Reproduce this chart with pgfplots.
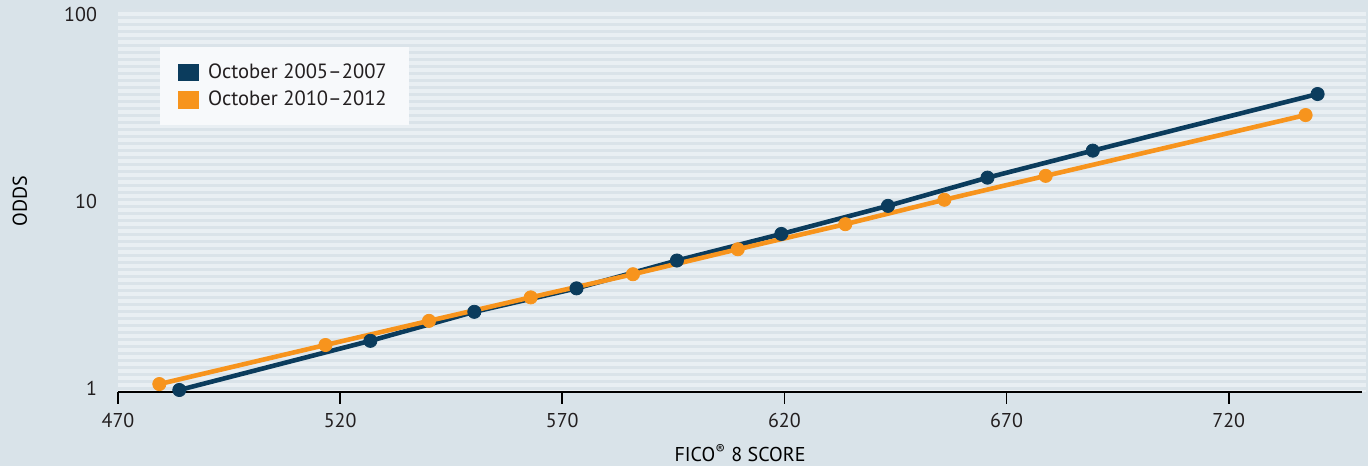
\documentclass[border=0pt]{standalone}
\usepackage{pgfplots}
\pgfplotsset{compat=1.18}
\usepackage{fontspec}
\setmainfont{PT Sans}
\definecolor{outerbg}{HTML}{D9E3E9}
\definecolor{plotlight}{HTML}{E9EFF3}
\definecolor{stripe}{HTML}{DAE3E9}
\definecolor{darkblue}{HTML}{0B3C5D}
\definecolor{orange}{HTML}{F7941D}
\definecolor{legfill}{HTML}{F7F9FB}
\definecolor{txt}{HTML}{231F20}
\pgfplotstableread{
x y
483.8 0.976
526.8 1.79
550.2 2.56
573.2 3.42
595.8 4.82
619.3 6.69
643.3 9.46
665.7 13.4
689.4 18.7
740.0 37.6
}\darkdata
\pgfplotstableread{
x y
479.3 1.05
516.7 1.70
540.0 2.29
562.9 3.06
585.9 4.07
609.5 5.54
633.7 7.55
656.0 10.2
678.8 13.7
737.3 29.0
}\orangedata
\begin{document}
\begin{tikzpicture}
\fill[outerbg] (0pt,0pt) rectangle (684pt,233pt);
\fill[plotlight] (59pt,37pt) rectangle (683pt,228pt);
\foreach \k in {0,...,54} {
  \fill[stripe] (59pt,37pt+\k*3.5pt+1.2pt) rectangle (683pt,37pt+\k*3.5pt+2.5pt);
}
\begin{axis}[
  at={(59pt,37pt)}, anchor=south west,
  scale only axis, width=622pt, height=191pt,
  xmin=470, xmax=750,
  ymode=log, ymin=0.952, ymax=106,
  xtick={470,520,570,620,670,720},
  ytick={1,10,100}, yticklabels={1,10,100},
  axis x line*=bottom, axis y line*=left,
  y axis line style={draw=none},
  x axis line style={black, line width=0.6pt},
  ytick style={draw=none}, minor y tick style={draw=none},
  xtick style={black, line width=0.8pt},
  tick align=outside, major tick length=6pt,
  /pgf/number format/assume math mode=true,
  /pgf/number format/1000 sep={},
  tick label style={font=\fontsize{10}{12}\selectfont, text=txt},
  xticklabel style={yshift=-1.2pt},
  yticklabel style={xshift=-1pt},
  label style={font=\fontsize{10}{12}\selectfont, text=txt},
  every axis x label/.style={at={(rel axis cs:0.5,0)}, yshift=-30.5pt, anchor=center},
  every axis y label/.style={at={(rel axis cs:0,0.5)}, xshift=-49pt, rotate=90, anchor=center},
  xlabel={FICO\textsuperscript{®} 8 SCORE},
  ylabel={ODDS},
  legend style={at={(rel axis cs:0.0338,0.903)}, anchor=north west, draw=none, fill=legfill,
    font=\fontsize{10.3}{12}\selectfont, text=txt, inner xsep=9pt, inner ysep=6pt,
    row sep=1pt},
  legend cell align=left,
]
\addplot[darkblue, line width=2.3pt, mark=*, mark size=3.3pt, mark options={line width=0.4pt},
  legend image code/.code={\fill[darkblue] (-0.5pt,-3.2pt) rectangle (7.5pt,3.2pt);}]
  table[x=x,y=y] {\darkdata};
\addlegendentry{\hspace{2.5pt}October 2005--2007}
\addplot[orange, line width=2.3pt, mark=*, mark size=3.3pt, mark options={line width=0.4pt},
  legend image code/.code={\fill[orange] (-0.5pt,-3.2pt) rectangle (7.5pt,3.2pt);}]
  table[x=x,y=y] {\orangedata};
\addlegendentry{\hspace{2.5pt}October 2010--2012}
\end{axis}
\end{tikzpicture}
\end{document}
